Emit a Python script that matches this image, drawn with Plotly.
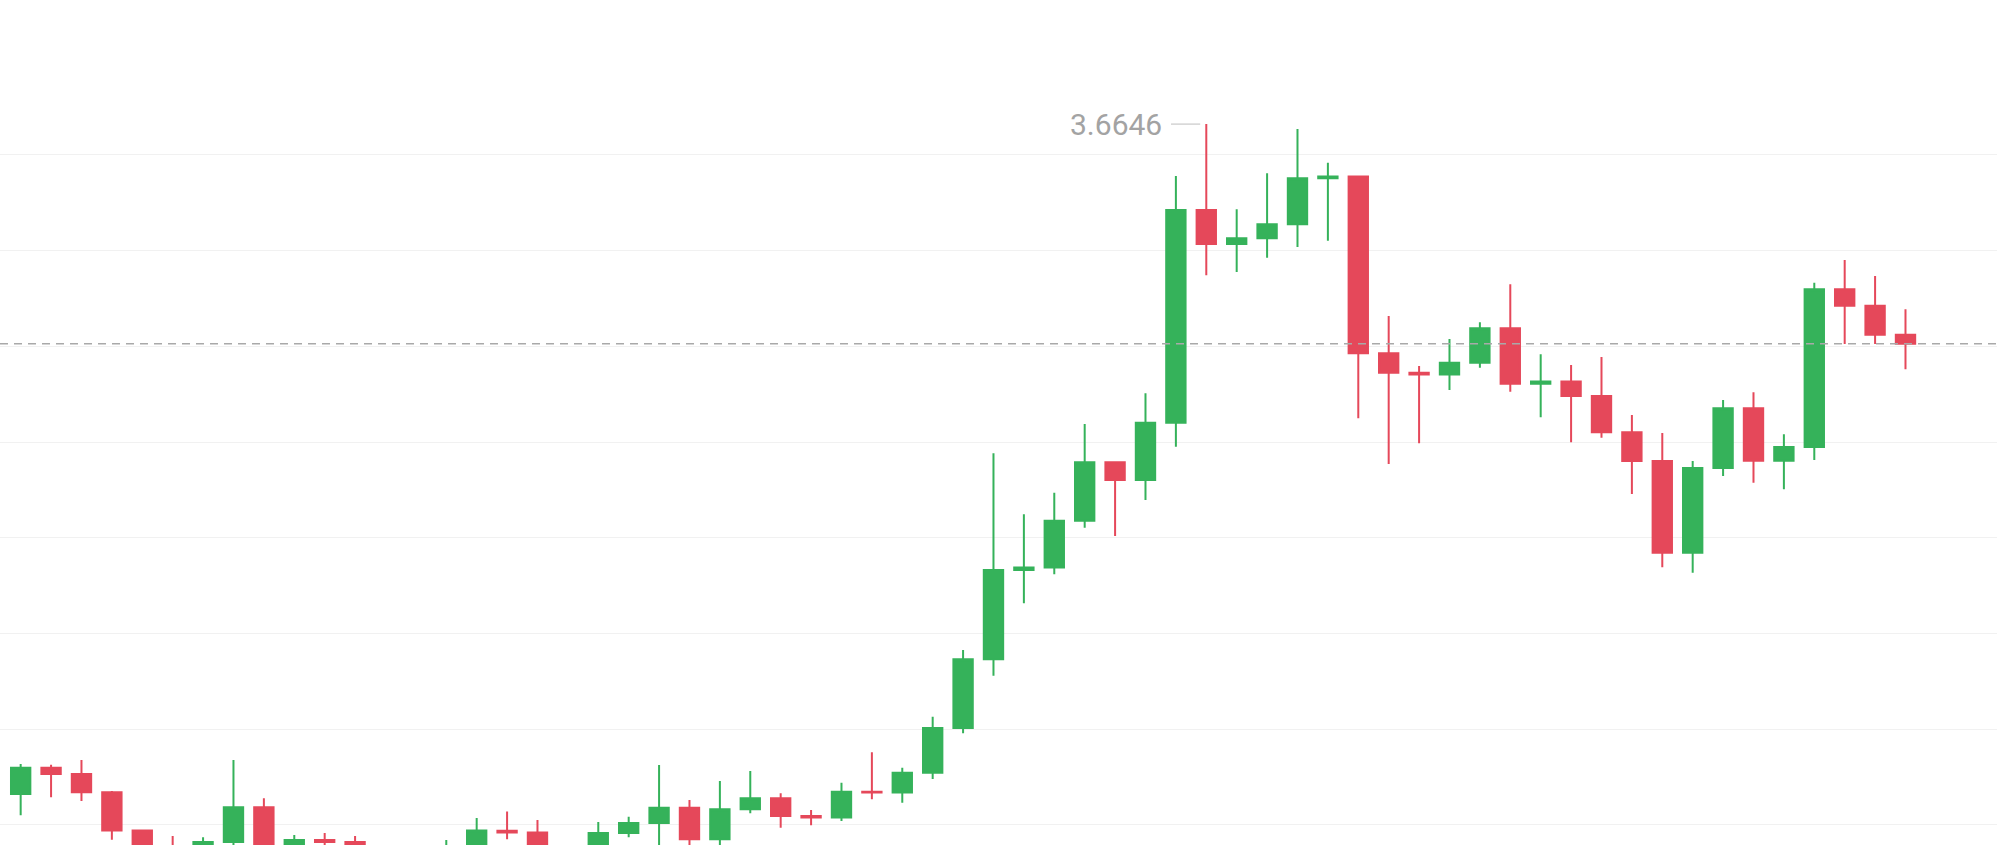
import plotly.graph_objects as go

# Candle index (time order) and OHLC values
idx = list(range(63))
opens = [2.2646, 2.3195, 2.3064, 2.2681, 2.1883, 2.1308, 2.1141, 2.1643, 2.2368, 2.1371,
         2.1684, 2.1643, 2.1434, 2.1350, 2.1266, 2.1475, 2.1880, 2.1841, 2.1434, 2.1517,
         2.1831, 2.2040, 2.2359, 2.1699, 2.2326, 2.2556, 2.2186, 2.2155, 2.2694, 2.2677,
         2.3091, 2.4025, 2.5461, 2.7327, 2.7379, 2.8357, 2.9578, 2.9208, 3.0405, 3.4851,
         3.4140, 3.4259, 3.4552, 3.5513, 3.5551, 3.1856, 3.1450, 3.1413, 3.1659, 3.2378,
         3.1220, 3.1266, 3.0963, 3.0205, 2.9605, 2.7689, 2.9459, 3.0706, 2.9611, 2.9898,
         3.3193, 3.2851, 3.2244]
closes = [2.3195, 2.3064, 2.2681, 2.1883, 2.1308, 2.1141, 2.1643, 2.2368, 2.1371, 2.1684,
          2.1643, 2.1434, 2.1350, 2.1266, 2.1475, 2.1883, 2.1841, 2.1434, 2.1517, 2.1831,
          2.2040, 2.2359, 2.1699, 2.2326, 2.2556, 2.2186, 2.2155, 2.2694, 2.2677, 2.3091,
          2.4025, 2.5461, 2.7327, 2.7379, 2.8357, 2.9578, 2.9208, 3.0405, 3.4851, 3.4140,
          3.4259, 3.4552, 3.5513, 3.5551, 3.1856, 3.1450, 3.1413, 3.1659, 3.2378, 3.1220,
          3.1266, 3.0963, 3.0205, 2.9605, 2.7689, 2.9459, 3.0706, 2.9611, 2.9898, 3.3193,
          3.2851, 3.2244, 3.2056]
highs = [2.3273, 2.3258, 2.3356, 2.2708, 2.1890, 2.1768, 2.1741, 2.3356, 2.2556, 2.1789,
         2.1831, 2.1768, 2.1517, 2.1496, 2.1684, 2.2144, 2.2280, 2.2102, 2.1538, 2.2061,
         2.2171, 2.3252, 2.2520, 2.2917, 2.3126, 2.2660, 2.2311, 2.2882, 2.3517, 2.3195,
         2.4261, 2.5655, 2.9766, 2.8491, 2.8942, 3.0378, 2.9585, 3.1020, 3.5561, 3.6646,
         3.4865, 3.5618, 3.6543, 3.5839, 3.5560, 3.2635, 3.1590, 3.2155, 3.2504, 3.3298,
         3.1835, 3.1611, 3.1778, 3.0566, 3.0190, 2.9605, 3.0880, 3.1041, 3.0163, 3.3331,
         3.3806, 3.3471, 3.2775]
lows = [2.2200, 2.2577, 2.2499, 2.1690, 2.1141, 2.0950, 2.1050, 2.1517, 2.1162, 2.1266,
        2.1475, 2.1266, 2.1225, 2.1099, 2.1141, 2.1308, 2.1699, 2.1266, 2.1308, 2.1434,
        2.1741, 2.1517, 2.1517, 2.1517, 2.2243, 2.1941, 2.1992, 2.2082, 2.2535, 2.2464,
        2.2959, 2.3914, 2.5118, 2.6631, 2.7237, 2.8211, 2.8038, 2.8790, 2.9904, 3.3486,
        3.3555, 3.3854, 3.4077, 3.4209, 3.0497, 2.9542, 2.9975, 3.1089, 3.1555, 3.1053,
        3.0518, 2.9996, 3.0092, 2.8915, 2.7384, 2.7271, 2.9292, 2.9152, 2.9014, 2.9626,
        3.2050, 3.2050, 3.1521]
grid_levels = [2.2, 2.4, 2.6, 2.8, 3.0, 3.2, 3.4, 3.6]

GREEN = "#35b25a"
RED = "#e5485a"

fig = go.Figure()
fig.add_trace(go.Candlestick(
    x=idx, open=opens, high=highs, low=lows, close=closes,
    increasing=dict(fillcolor=GREEN, line=dict(color=GREEN, width=2)),
    decreasing=dict(fillcolor=RED, line=dict(color=RED, width=2)),
    whiskerwidth=0,
    hoverinfo="skip",
    showlegend=False,
))

# current price dashed line at last close
last_close = closes[-1]
fig.add_shape(type="line", xref="paper", x0=0, x1=1, yref="y", y0=last_close, y1=last_close,
              line=dict(color="#a9a9a9", width=1.5, dash="8px,6px"), layer="above")

# max high marker
peak_i = max(range(len(highs)), key=lambda i: highs[i])
peak_v = highs[peak_i]
fig.add_shape(type="line", xref="x", yref="y", x0=peak_i - 1.16, x1=peak_i - 0.2,
              y0=peak_v, y1=peak_v, line=dict(color="#bdbdbd", width=1))
fig.add_annotation(x=peak_i - 1.38, y=peak_v, xref="x", yref="y", text=f"{peak_v:.4f}",
                   showarrow=False, xanchor="right", yanchor="middle",
                   font=dict(family="Roboto", size=30, color="#a3a3a3"))

fig.update_layout(
    width=1997, height=845,
    margin=dict(l=0, r=0, t=0, b=0),
    paper_bgcolor="white", plot_bgcolor="white",
    boxgap=0.09,
    hovermode=False,
    xaxis=dict(range=[-0.68, 65.01], showgrid=False, zeroline=False, showticklabels=False,
               rangeslider=dict(visible=False), showline=False, ticks=""),
    yaxis=dict(range=[2.158, 3.9239], tickmode="array", tickvals=grid_levels,
               showgrid=True, gridcolor="#f1f1f1",
               gridwidth=1, zeroline=False, showticklabels=False, showline=False, ticks=""),
)

fig.write_html("out.html", config={"displayModeBar": False, "staticPlot": True},
               post_script="document.body.style.margin='0';document.body.style.overflow='hidden';")
